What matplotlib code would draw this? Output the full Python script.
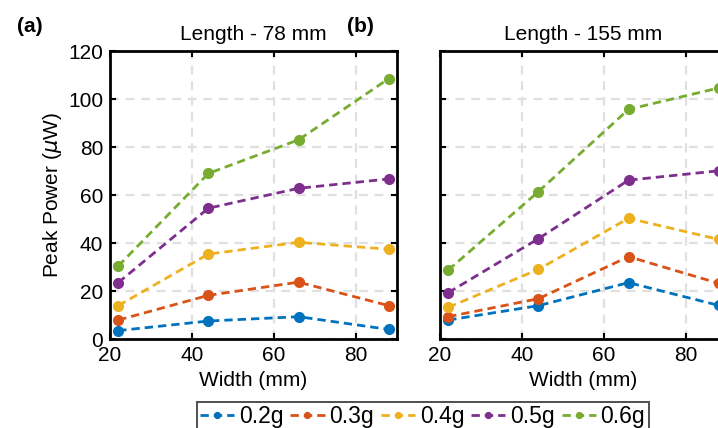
import matplotlib
matplotlib.use("Agg")
import matplotlib.pyplot as plt

plt.rcParams["font.family"] = ["Liberation Sans", "DejaVu Sans"]
plt.rcParams["mathtext.fontset"] = "dejavusans"

# widths (mm) where peak power was measured
widths = [22, 44, 66, 88]
loads = ["0.2g", "0.3g", "0.4g", "0.5g", "0.6g"]
colors = ["#0072BD", "#D95319", "#EDB120", "#7E2F8E", "#77AC30"]

# peak power (uW) for length 78 mm, one list per load
p78_02 = [3.5, 7.5, 9.3, 4.0]
p78_03 = [7.9, 18.2, 23.7, 13.9]
p78_04 = [13.9, 35.4, 40.3, 37.4]
p78_05 = [23.5, 54.5, 62.8, 66.7]
p78_06 = [30.4, 69.0, 83.0, 108.5]

# peak power (uW) for length 155 mm
p155_02 = [7.9, 13.9, 23.5, 14.0]
p155_03 = [9.3, 16.8, 34.3, 23.2]
p155_04 = [13.2, 29.0, 50.3, 41.5]
p155_05 = [19.3, 41.8, 66.2, 70.1]
p155_06 = [28.7, 61.4, 95.7, 104.6]

panels = [
    ("(a)", "Length - 78 mm", [p78_02, p78_03, p78_04, p78_05, p78_06]),
    ("(b)", "Length - 155 mm", [p155_02, p155_03, p155_04, p155_05, p155_06]),
]

fs = 15
fig = plt.figure(figsize=(7.18, 4.28), dpi=100)
lefts = [0.1532, 0.6128]
axes = []
for i, (tag, title, series) in enumerate(panels):
    ax = fig.add_axes([lefts[i], 0.2079, 0.3997, 0.6729])
    for vals, lab, col in zip(series, loads, colors):
        ax.plot(widths, vals, "--o", color=col, lw=2.0, ms=7, label=lab,
                dashes=(3, 1.8))
    ax.set_xlim(20, 90)
    ax.set_ylim(0, 120)
    ax.set_xticks([20, 40, 60, 80])
    ax.set_yticks([0, 20, 40, 60, 80, 100, 120])
    ax.grid(True, color="#e0e0e0", linestyle=(0, (4, 3)), linewidth=1.6)
    ax.set_axisbelow(True)
    ax.tick_params(direction="in", length=4, width=1.5, top=True, right=True,
                   labelsize=fs, pad=5)
    for s in ax.spines.values():
        s.set_linewidth(2.0)
    ax.set_xlabel("Width (mm)", fontsize=fs, labelpad=4)
    ax.set_title(title, fontsize=fs, pad=8)
    if i == 0:
        ax.set_ylabel(r"Peak Power ($\mu$W)", fontsize=fs, labelpad=3)
    else:
        ax.tick_params(labelleft=False)
    fig.text(lefts[i] - 0.13, 0.937, tag, fontsize=fs, fontweight="bold",
             ha="left", va="center")
    axes.append(ax)

# legend sits low so its bottom is clipped by the figure edge, as in the source
handles, labels = axes[0].get_legend_handles_labels()
leg = fig.legend(handles, labels, loc="upper center", ncol=5,
                 bbox_to_anchor=(0.5885, 0.061), fontsize=16.5, frameon=True,
                 fancybox=False, handlelength=1.5, handletextpad=0.2,
                 columnspacing=0.3, borderpad=0.15, borderaxespad=0,
                 markerscale=0.6)
leg.get_frame().set_edgecolor("#222222")
leg.get_frame().set_linewidth(1.4)

fig.savefig("out.png", dpi=100)
